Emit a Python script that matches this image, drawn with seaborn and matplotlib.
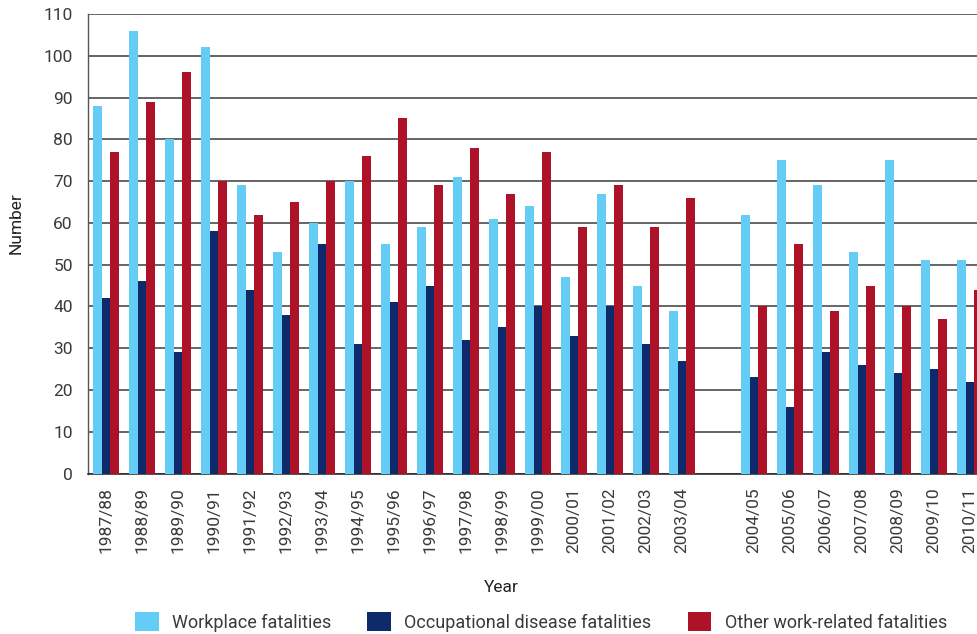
import numpy as np
import pandas as pd
import matplotlib
matplotlib.use("Agg")
import matplotlib.pyplot as plt
import seaborn as sns
from matplotlib.ticker import FixedLocator

# years before and after the break in the series
years_a = ['1987/88', '1988/89', '1989/90', '1990/91', '1991/92', '1992/93',
           '1993/94', '1994/95', '1995/96', '1996/97', '1997/98', '1998/99',
           '1999/00', '2000/01', '2001/02', '2002/03', '2003/04']
years_b = ['2004/05', '2005/06', '2006/07', '2007/08', '2008/09', '2009/10', '2010/11']

workplace = [88, 106, 80, 102, 69, 53, 60, 70, 55, 59, 71, 61, 64, 47, 67, 45, 39,
             62, 75, 69, 53, 75, 51, 51]
occupational = [42, 46, 29, 58, 44, 38, 55, 31, 41, 45, 32, 35, 40, 33, 40, 31, 27,
                23, 16, 29, 26, 24, 25, 22]
other = [77, 89, 96, 70, 62, 65, 70, 76, 85, 69, 78, 67, 77, 59, 69, 59, 66,
         40, 55, 39, 45, 40, 37, 44]

series = ['Workplace fatalities', 'Occupational disease fatalities',
          'Other work-related fatalities']
colors = ['#63CDF5', '#0E2A6B', '#AE1229']

years = years_a + years_b
order = years_a + [' '] + years_b   # empty slot for the break

df = pd.DataFrame({
    'Year': years * 3,
    'Type': [series[0]] * len(years) + [series[1]] * len(years) + [series[2]] * len(years),
    'Number': workplace + occupational + other,
})

sns.set_style('white')
plt.rcParams['font.family'] = ['Roboto', 'DejaVu Sans']

fig = plt.figure(figsize=(9.78, 6.34), dpi=100)
ax = fig.add_axes([88 / 978, 160.5 / 634, 900 / 978, 459.5 / 634])

sns.barplot(data=df, x='Year', y='Number', hue='Type', order=order,
            hue_order=series, palette=dict(zip(series, colors)),
            width=0.72, saturation=1, linewidth=0, ax=ax, zorder=3)

ax.set_ylim(0, 110)
ax.set_xlim(-0.5, len(order) - 0.5)
ax.set_yticks(np.arange(0, 111, 10))
ax.yaxis.grid(True, color='#3c3c3c', linewidth=1.1, zorder=0)
ax.set_axisbelow(True)

for s in ['top', 'right']:
    ax.spines[s].set_visible(False)
ax.spines['left'].set_color('#555555')
ax.spines['left'].set_linewidth(1.0)
ax.spines['bottom'].set_color('#222222')
ax.spines['bottom'].set_linewidth(1.1)

ax.tick_params(axis='y', length=0, pad=11, labelsize=12.5, labelcolor='#3a3a3a')
ax.tick_params(axis='x', which='major', length=0, pad=10, labelsize=12.5,
               labelcolor='#3a3a3a', labelrotation=90)
ax.xaxis.set_minor_locator(FixedLocator(np.arange(0.5, len(order) - 1, 1)))
ax.tick_params(axis='x', which='minor', direction='in', length=4.5, width=1.0,
               color='#333333')

ax.set_xlabel('')
ax.set_ylabel('')
fig.text(16 / 978, 1 - 223 / 634, 'Number', rotation=90, ha='center', va='center',
         fontsize=12.5, color='#222222')
fig.text(501 / 978, 1 - 587 / 634, 'Year', ha='center', va='center',
         fontsize=12.5, color='#222222')

handles, labels = ax.get_legend_handles_labels()
ax.legend_.remove()
leg = fig.legend(handles, labels, loc='center', ncol=3, frameon=False,
                 bbox_to_anchor=(541 / 978, 1 - 622 / 634), fontsize=13,
                 handlelength=1.3, handleheight=1.25, handletextpad=0.75,
                 columnspacing=2.0)
for t in leg.get_texts():
    t.set_color('#3a3a3a')

fig.savefig('out.png', dpi=100)
